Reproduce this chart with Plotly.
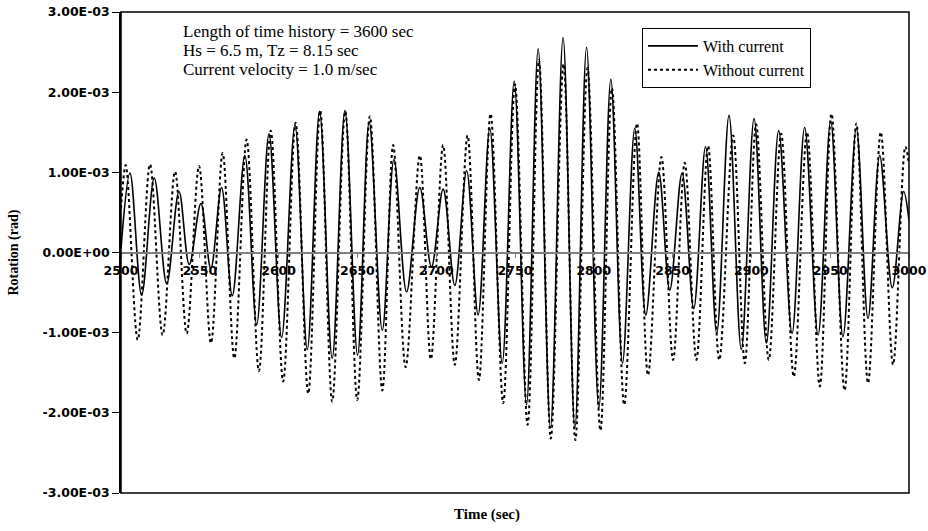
import plotly.graph_objects as go

# ---- data (values in units of 1e-3 rad) ----
t_with = [2500, 2505.7, 2513.1, 2521.1, 2529.0, 2536.8, 2543.3, 2550.7, 2557.0, 2563.8,
          2570.6, 2578.6, 2586.1, 2593.9, 2601.9, 2610.4, 2618.2, 2626.0, 2634.0, 2642.1,
          2650.1, 2657.5, 2665.8, 2673.2, 2681.2, 2689.6, 2697.0, 2704.4, 2711.8, 2719.3,
          2726.6, 2734.0, 2741.9, 2749.5, 2757.3, 2764.7, 2772.5, 2780.5, 2788.0, 2795.4,
          2803.2, 2810.8, 2818.2, 2826.0, 2833.0, 2841.2, 2848.2, 2856.0, 2863.4, 2870.9,
          2878.0, 2885.8, 2893.6, 2901.7, 2909.5, 2917.3, 2925.8, 2933.8, 2942.3, 2950.3,
          2958.1, 2966.6, 2974.0, 2981.4, 2989.4, 2996.6, 3000]
v_with = [0.05, 0.99, -0.53, 0.93, -0.39, 0.76, -0.15, 0.61, -0.20, 0.81,
          -0.54, 1.21, -0.90, 1.48, -1.06, 1.59, -1.21, 1.76, -1.32, 1.77,
          -1.28, 1.63, -0.97, 1.16, -0.49, 0.81, -0.18, 0.79, -0.41, 1.02,
          -0.78, 1.55, -1.38, 2.14, -1.90, 2.54, -2.19, 2.68, -2.19, 2.56,
          -1.94, 2.16, -1.38, 1.55, -0.78, 1.00, -0.47, 0.99, -0.70, 1.32,
          -1.01, 1.71, -1.21, 1.67, -1.13, 1.52, -1.01, 1.56, -1.03, 1.64,
          -1.05, 1.55, -0.82, 1.21, -0.44, 0.76, 0.40]

t_without = [2500, 2503.0, 2510.6, 2518.4, 2526.4, 2534.3, 2541.7, 2549.5, 2557.1, 2564.5,
             2571.9, 2579.7, 2587.5, 2595.0, 2602.9, 2610.8, 2618.8, 2626.4, 2634.0, 2642.3,
             2649.9, 2657.9, 2665.8, 2672.7, 2680.6, 2689.6, 2696.6, 2704.4, 2711.8, 2719.9,
             2727.1, 2734.5, 2742.5, 2750.0, 2758.0, 2765.2, 2772.7, 2780.8, 2788.3, 2796.0,
             2804.2, 2811.5, 2819.3, 2827.4, 2834.4, 2842.9, 2850.3, 2857.7, 2865.1, 2872.5,
             2879.6, 2888.4, 2895.8, 2903.0, 2911.0, 2918.9, 2926.9, 2935.3, 2943.4, 2950.8,
             2959.1, 2966.6, 2974.0, 2982.1, 2989.9, 2997.7, 3000]
v_without = [0.55, 1.09, -1.09, 1.10, -1.03, 1.01, -1.01, 1.08, -1.13, 1.24,
             -1.32, 1.41, -1.48, 1.52, -1.61, 1.62, -1.76, 1.77, -1.86, 1.76,
             -1.84, 1.70, -1.72, 1.34, -1.43, 1.21, -1.33, 1.34, -1.40, 1.46,
             -1.59, 1.73, -1.88, 2.10, -2.15, 2.40, -2.32, 2.35, -2.34, 2.30,
             -2.22, 2.05, -1.90, 1.61, -1.53, 1.19, -1.34, 1.12, -1.34, 1.33,
             -1.34, 1.46, -1.38, 1.60, -1.34, 1.48, -1.55, 1.50, -1.67, 1.73,
             -1.72, 1.61, -1.63, 1.50, -1.40, 1.32, 1.10]

x_ticks = [2500, 2550, 2600, 2650, 2700, 2750, 2800, 2850, 2900, 2950, 3000]
y_ticks = [-3e-3, -2e-3, -1e-3, 0, 1e-3, 2e-3, 3e-3]
y_labels = ["-3.00E-03", "-2.00E-03", "-1.00E-03", "0.00E+00", "1.00E-03", "2.00E-03", "3.00E-03"]

info_lines = ["Length of time history = 3600 sec",
              "Hs = 6.5 m, Tz = 8.15 sec",
              "Current velocity = 1.0 m/sec"]

# ---- figure ----
W, H = 928, 531
L, R, T, B = 121, 19, 12, 38
pw, ph = W - L - R, H - T - B

def px_x(px):
    return (px - L) / pw

def px_y(py):
    return (H - B - py) / ph

fig = go.Figure()
fig.add_trace(go.Scatter(
    x=t_with, y=[v * 1e-3 for v in v_with], mode="lines", name="With current",
    line=dict(color="black", width=1.6, shape="spline", smoothing=1.0)))
fig.add_trace(go.Scatter(
    x=t_without, y=[v * 1e-3 for v in v_without], mode="lines", name="Without current",
    line=dict(color="black", width=2, dash="3px,3px", shape="spline", smoothing=1.0)))

tickfont = dict(family="DejaVu Sans", size=12.5, color="black", weight="bold")
serif = "Liberation Serif, Times New Roman, serif"

fig.update_layout(
    width=W, height=H,
    margin=dict(l=L, r=R, t=T, b=B, pad=0, autoexpand=False),
    paper_bgcolor="white", plot_bgcolor="white",
    showlegend=True,
    legend=dict(x=px_x(642), y=px_y(28), xanchor="left", yanchor="top",
                bgcolor="white", bordercolor="black", borderwidth=1,
                font=dict(family=serif, size=16, color="black"),
                itemwidth=50, tracegroupgap=0),
    xaxis=dict(range=[2500, 3000], tickvals=x_ticks, anchor="free", position=0.5,
               showline=True, linecolor="#808080", linewidth=2,
               ticks="outside", ticklen=4, tickcolor="#808080",
               showgrid=False, zeroline=False, tickfont=tickfont,
               ticklabelstandoff=2, automargin=False),
    yaxis=dict(range=[-3e-3, 3e-3], tickvals=y_ticks, ticktext=y_labels,
               showline=True, linecolor="black", linewidth=1.5,
               ticks="outside", ticklen=7, tickcolor="black",
               showgrid=False, zeroline=False, tickfont=tickfont, automargin=False),
)

fig.add_shape(type="rect", xref="paper", yref="paper", x0=0, x1=1, y0=0, y1=1,
              line=dict(color="black", width=1.5), layer="above")

for line_text, py in zip(info_lines, [31.7, 50.7, 69.5]):
    fig.add_annotation(text=line_text, xref="paper", yref="paper",
                       x=px_x(181), y=px_y(py), xanchor="left", yanchor="middle",
                       showarrow=False, font=dict(family=serif, size=17, color="black"))

fig.add_annotation(text="Rotation (rad)", xref="paper", yref="paper",
                   x=px_x(13), y=0.5, xanchor="center", yanchor="middle", textangle=-90,
                   showarrow=False, font=dict(family=serif, size=14, color="black", weight="bold"))
fig.add_annotation(text="Time (sec)", xref="paper", yref="paper",
                   x=px_x(487), y=px_y(514), xanchor="center", yanchor="middle",
                   showarrow=False, font=dict(family=serif, size=15, color="black", weight="bold"))

fig.write_html("out.html")
